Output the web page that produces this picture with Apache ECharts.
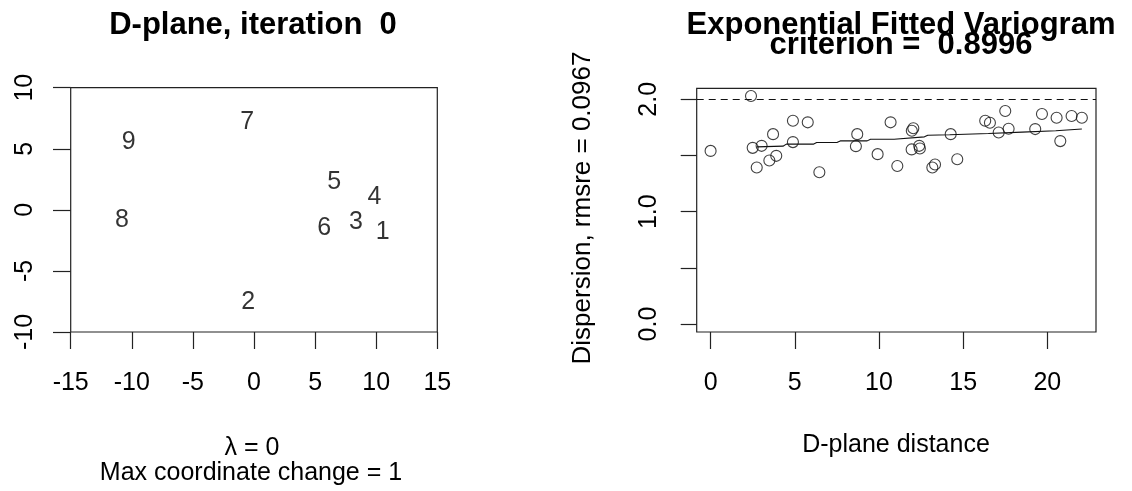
<!DOCTYPE html>
<html>
<head>
<meta charset="utf-8">
<script src="https://cdn.jsdelivr.net/npm/echarts@6/dist/echarts.min.js"></script>
<style>
html,body{margin:0;padding:0;background:#fff;}
#chart{width:1132px;height:491px;}
</style>
</head>
<body>
<div id="chart"></div>
<script>
// ---- Left panel: D-plane coordinates ----
const pointLabels = ['1','2','3','4','5','6','7','8','9'];
const coordX = [10.53, -0.47, 8.35, 9.85, 6.57, 5.75, -0.55, -10.8, -10.25];
const coordY = [-1.8, -7.53, -0.97, 1.07, 2.3, -1.52, 7.2, -0.84, 5.53];
const leftXTicks = [-15, -10, -5, 0, 5, 10, 15];
const leftYTicks = [-10, -5, 0, 5, 10];

// ---- Right panel: variogram ----
const distance = [0, 2.40, 2.50, 3.03, 2.74, 3.71, 3.49, 3.90, 4.89, 4.89, 5.77, 6.46, 8.71, 8.63, 9.92, 10.69, 11.09, 12.04, 11.95, 11.94, 12.39, 12.43, 13.17, 13.33, 14.26, 14.65, 16.31, 16.59, 17.50, 17.11, 17.70, 19.28, 19.68, 20.55, 20.77, 21.44, 22.05];
const dispersion = [1.541, 2.03, 1.568, 1.586, 1.393, 1.69, 1.455, 1.497, 1.809, 1.619, 1.795, 1.351, 1.69, 1.583, 1.512, 1.795, 1.407, 1.742, 1.72, 1.554, 1.586, 1.562, 1.393, 1.42, 1.69, 1.467, 1.809, 1.791, 1.896, 1.705, 1.738, 1.735, 1.869, 1.836, 1.628, 1.851, 1.836];
const fitX = [2.74, 4.3, 4.5, 6.1, 6.3, 7.5, 7.7, 9.3, 9.5, 10.9, 11.0, 12.7, 12.9, 14.2, 16.5, 16.6, 18.5, 18.6, 20.5, 20.6, 22.05];
const fitY = [1.577, 1.583, 1.601, 1.601, 1.616, 1.616, 1.630, 1.630, 1.645, 1.645, 1.660, 1.666, 1.680, 1.685, 1.696, 1.708, 1.708, 1.720, 1.720, 1.732, 1.736];
const sillLevel = 2.0;
const rightXTicks = [0, 5, 10, 15, 20];
const rightYTicks = [0, 0.5, 1.0, 1.5, 2.0];
const rightYLabels = [0, 1.0, 2.0];

const FONT = 'Liberation Sans, Arial, sans-serif';
const LINE = '#222';

const chart = echarts.init(document.getElementById('chart'), null, {renderer: 'canvas'});

const tickStyle = {lineStyle: {color: LINE, width: 1.2}};
const labelBase = {color: '#000', fontFamily: FONT, fontSize: 25};
const noLine = {show: false, onZero: false};

chart.setOption({
  animation: false,
  backgroundColor: '#fff',
  grid: [
    {left: 70.7, right: 1132 - 437.3, top: 87.7, bottom: 491 - 332, show: true, borderColor: LINE, borderWidth: 1.2, backgroundColor: 'transparent'},
    {left: 696.7, right: 1132 - 1096, top: 88.3, bottom: 491 - 332, show: true, borderColor: LINE, borderWidth: 1.2, backgroundColor: 'transparent'}
  ],
  xAxis: [
    {
      gridIndex: 0, type: 'value', min: -15, max: 15, interval: 5, position: 'bottom',
      axisLine: noLine, splitLine: {show: false},
      axisTick: Object.assign({show: true, inside: false, length: 17, customValues: leftXTicks}, tickStyle),
      axisLabel: Object.assign({show: true, margin: 39, customValues: leftXTicks, formatter: v => String(v)}, labelBase)
    },
    {
      gridIndex: 1, type: 'value', min: -0.825, max: 22.89, position: 'bottom',
      axisLine: noLine, splitLine: {show: false},
      axisTick: Object.assign({show: true, length: 17, customValues: rightXTicks}, tickStyle),
      axisLabel: Object.assign({show: true, margin: 39, customValues: rightXTicks, formatter: v => String(v)}, labelBase)
    }
  ],
  yAxis: [
    {
      gridIndex: 0, type: 'value', min: -10, max: 10, interval: 5, position: 'left',
      axisLine: noLine, splitLine: {show: false},
      axisTick: Object.assign({show: true, length: 17.7, customValues: leftYTicks}, tickStyle),
      axisLabel: Object.assign({show: true, margin: 33, rotate: 90, customValues: leftYTicks,
        formatter: v => String(v)}, labelBase)
    },
    {
      gridIndex: 1, type: 'value', min: -0.071, max: 2.098, position: 'left',
      axisLine: noLine, splitLine: {show: false},
      axisTick: Object.assign({show: true, length: 16, customValues: rightYTicks}, tickStyle),
      axisLabel: Object.assign({show: true, margin: 35, rotate: 90, customValues: rightYLabels,
        formatter: v => v.toFixed(1)}, labelBase)
    }
  ],
  series: [
    {
      type: 'scatter', xAxisIndex: 0, yAxisIndex: 0,
      symbolSize: 1, itemStyle: {color: 'rgba(0,0,0,0)'},
      data: pointLabels.map((n, i) => ({name: n, value: [coordX[i], coordY[i]]})),
      label: {show: true, position: 'inside', formatter: p => p.name,
        color: '#000', fontFamily: FONT, fontSize: 25}
    },
    {
      type: 'scatter', xAxisIndex: 1, yAxisIndex: 1,
      symbol: 'circle', symbolSize: 11,
      itemStyle: {color: 'rgba(0,0,0,0)', borderColor: '#111', borderWidth: 1.1},
      data: distance.map((d, i) => [d, dispersion[i]]),
      z: 3
    },
    {
      type: 'line', xAxisIndex: 1, yAxisIndex: 1,
      showSymbol: false, symbol: 'none',
      lineStyle: {color: '#111', width: 1.1},
      data: fitX.map((d, i) => [d, fitY[i]]),
      markLine: {
        silent: true, symbol: 'none', label: {show: false},
        lineStyle: {color: '#111', width: 1.2, type: [7, 5]},
        data: [{yAxis: sillLevel}]
      },
      z: 2
    }
  ],
  graphic: [
    {type: 'text', x: 253, y: 25, style: {text: 'D-plane, iteration  0', fontFamily: FONT, fontSize: 31, fontWeight: 'bold', fill: '#000', align: 'center', verticalAlign: 'middle'}},
    {type: 'text', x: 901, y: 25, style: {text: 'Exponential Fitted Variogram', fontFamily: FONT, fontSize: 31, fontWeight: 'bold', fill: '#000', align: 'center', verticalAlign: 'middle'}},
    {type: 'text', x: 901, y: 45, style: {text: 'criterion =  0.8996', fontFamily: FONT, fontSize: 31, fontWeight: 'bold', fill: '#000', align: 'center', verticalAlign: 'middle'}},
    {type: 'text', x: 252, y: 448, style: {text: 'λ = 0', fontFamily: FONT, fontSize: 25, fill: '#000', align: 'center', verticalAlign: 'middle'}},
    {type: 'text', x: 251, y: 473, style: {text: 'Max coordinate change = 1', fontFamily: FONT, fontSize: 25, fill: '#000', align: 'center', verticalAlign: 'middle'}},
    {type: 'text', x: 896, y: 445, style: {text: 'D-plane distance', fontFamily: FONT, fontSize: 25, fill: '#000', align: 'center', verticalAlign: 'middle'}},
    {type: 'text', x: 583, y: 208, rotation: Math.PI / 2, style: {text: 'Dispersion, rmsre = 0.0967', fontFamily: FONT, fontSize: 26, fill: '#000', align: 'center', verticalAlign: 'middle'}}
  ]
});
</script>
</body>
</html>
